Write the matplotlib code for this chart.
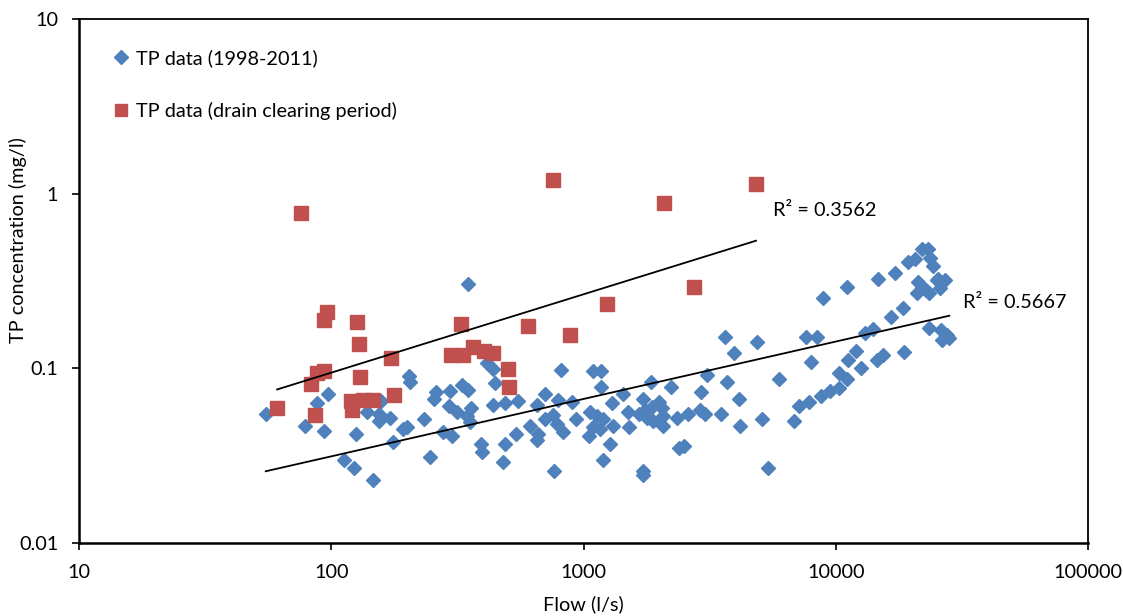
import numpy as np
import matplotlib
matplotlib.use("Agg")
import matplotlib.pyplot as plt
from matplotlib.ticker import FixedLocator, FixedFormatter, NullLocator

# TP data (1998-2011): flow (l/s) and TP concentration (mg/l)
blue_flow = [349, 203, 205, 97, 88, 55, 79, 94, 158, 138, 155, 155, 171, 125, 193, 199,
             176, 233, 260, 256, 296, 329, 349, 293, 314, 358, 344, 355, 437, 446, 413, 437,
             278, 300, 246, 392, 395, 112, 123, 146,
             3650, 812, 1094, 1170, 1170, 488, 551, 652, 704, 790, 898, 755, 704, 783, 832, 931,
             614, 662, 652, 540, 488, 478, 764, 1061, 1128, 1198, 1094, 1163, 1306, 1054, 1274,
             1198, 1294, 1430, 1497, 1515, 1727, 1852, 2217, 1664, 1753, 1864, 1998, 2042, 1781,
             1891, 2072, 2061, 2342, 2604, 2897, 3032, 2923, 3080, 3508, 3696, 2398, 2509, 1717,
             1726,
             11050, 14670, 17170, 8880, 4860, 3960, 7620, 8400, 7980, 4150, 4170, 5090, 5960,
             6850, 7170, 7830, 8720, 9490, 10330, 10330, 11110, 11150, 12030, 12560, 13060,
             14010, 14530, 15440, 16560, 18530, 18650, 23490, 26150, 26300, 27540, 28200, 5400,
             21910, 23270, 23640, 24230, 19390, 20610, 21250, 21910, 23490, 20940, 22790, 25510,
             27110, 25910, 25130]
blue_tp = [0.304, 0.090, 0.084, 0.071, 0.063, 0.055, 0.047, 0.044, 0.065, 0.056, 0.055, 0.050,
           0.052, 0.042, 0.045, 0.046, 0.038, 0.051, 0.073, 0.067, 0.074, 0.080, 0.075, 0.061,
           0.056, 0.059, 0.053, 0.049, 0.062, 0.082, 0.107, 0.099, 0.043, 0.041, 0.031, 0.037,
           0.033, 0.030, 0.027, 0.023,
           0.152, 0.098, 0.096, 0.096, 0.078, 0.063, 0.065, 0.062, 0.071, 0.066, 0.064, 0.054,
           0.051, 0.048, 0.043, 0.051, 0.047, 0.042, 0.039, 0.042, 0.037, 0.029, 0.026, 0.056,
           0.053, 0.051, 0.046, 0.045, 0.047, 0.041, 0.037, 0.030, 0.063, 0.071, 0.056, 0.046,
           0.067, 0.083, 0.078, 0.055, 0.058, 0.060, 0.064, 0.059, 0.052, 0.050, 0.053, 0.047,
           0.052, 0.055, 0.058, 0.055, 0.073, 0.092, 0.055, 0.084, 0.035, 0.036, 0.026, 0.0245,
           0.293, 0.323, 0.353, 0.252, 0.142, 0.122, 0.152, 0.152, 0.108, 0.067, 0.047, 0.051,
           0.087, 0.050, 0.061, 0.064, 0.069, 0.074, 0.077, 0.094, 0.087, 0.112, 0.125, 0.101,
           0.159, 0.167, 0.111, 0.119, 0.197, 0.221, 0.124, 0.170, 0.166, 0.145, 0.155, 0.149,
           0.027, 0.480, 0.480, 0.427, 0.385, 0.408, 0.421, 0.313, 0.293, 0.269, 0.269, 0.281,
           0.323, 0.321, 0.287, 0.320]

# TP data (drain clearing period)
red_flow = [61, 76, 83, 86, 88, 94, 94, 96, 126, 129, 130, 120, 121, 134, 146, 173, 177,
            327, 298, 332, 366, 403, 439, 501, 508, 601, 884, 759, 1236, 2090, 2750, 4830]
red_tp = [0.059, 0.77, 0.081, 0.054, 0.094, 0.097, 0.19, 0.21, 0.185, 0.138, 0.089, 0.065,
          0.058, 0.066, 0.066, 0.114, 0.070, 0.18, 0.119, 0.119, 0.133, 0.126, 0.122, 0.099,
          0.078, 0.175, 0.155, 1.2, 0.233, 0.88, 0.293, 1.13]

# Power-law trend lines  TP = a * flow**b
trend_all = {"a": 0.0069, "b": 0.3286, "r2": "0.5667"}
trend_drain = {"a": 0.01197, "b": 0.4486, "r2": "0.3562"}

x_ticks = [10, 100, 1000, 10000, 100000]
x_tick_labels = ["10", "100", "1000", "10000", "100000"]
y_ticks = [0.01, 0.1, 1, 10]
y_tick_labels = ["0.01", "0.1", "1", "10"]

plt.rcParams["font.family"] = ["Lato", "DejaVu Sans"]
FS = 14.3

fig = plt.figure(figsize=(11.23, 6.16), dpi=100)
ax = fig.add_axes([79 / 1123, 73 / 616, 1009 / 1123, 524 / 616])

blue_c = "#4F81BD"
red_c = "#C0504D"

ax.plot(blue_flow, blue_tp, linestyle="none", marker="D", markersize=7.3,
        color=blue_c, markeredgecolor=blue_c, label="TP data (1998-2011)", zorder=3)
ax.plot(red_flow, red_tp, linestyle="none", marker="s", markersize=9.6,
        color=red_c, markeredgecolor=red_c, label="TP data (drain clearing period)", zorder=3)


def draw_trend(flow, coef, offset):
    xs = np.geomspace(min(flow), max(flow), 50)
    ys = coef["a"] * xs ** coef["b"]
    ax.plot(xs, ys, color="black", linewidth=1.3, zorder=4)
    ax.annotate("R\u00b2 = " + coef["r2"], xy=(xs[-1], ys[-1]), xytext=offset,
                textcoords="offset pixels", fontsize=FS, va="center", ha="left")


draw_trend(red_flow, trend_drain, (17, 30))
draw_trend(blue_flow, trend_all, (14, 13))

ax.set_xscale("log")
ax.set_yscale("log")
ax.set_xlim(10, 100000)
ax.set_ylim(0.01, 10)

ax.xaxis.set_major_locator(FixedLocator(x_ticks))
ax.xaxis.set_major_formatter(FixedFormatter(x_tick_labels))
ax.yaxis.set_major_locator(FixedLocator(y_ticks))
ax.yaxis.set_major_formatter(FixedFormatter(y_tick_labels))
ax.xaxis.set_minor_locator(NullLocator())
ax.yaxis.set_minor_locator(NullLocator())
ax.tick_params(axis="both", direction="out", length=5, width=1.2, labelsize=FS,
               colors="black")
ax.tick_params(axis="x", pad=10)
ax.tick_params(axis="y", pad=10)

for side in ["top", "right"]:
    ax.spines[side].set_linewidth(1.3)
for side in ["left", "bottom"]:
    ax.spines[side].set_linewidth(1.8)

ax.set_xlabel("Flow (l/s)", fontsize=FS)
ax.set_ylabel("TP concentration (mg/l)", fontsize=FS)
ax.xaxis.set_label_coords(0.5, -0.099)
ax.yaxis.set_label_coords(-0.052, 0.578)

ax.legend(loc="upper left", bbox_to_anchor=(0.034, 0.942), frameon=False, fontsize=FS,
          labelspacing=1.75, handlelength=0.8, handletextpad=0.35, borderpad=0,
          borderaxespad=0, markerscale=0.95)

fig.savefig("out.png", dpi=100)
